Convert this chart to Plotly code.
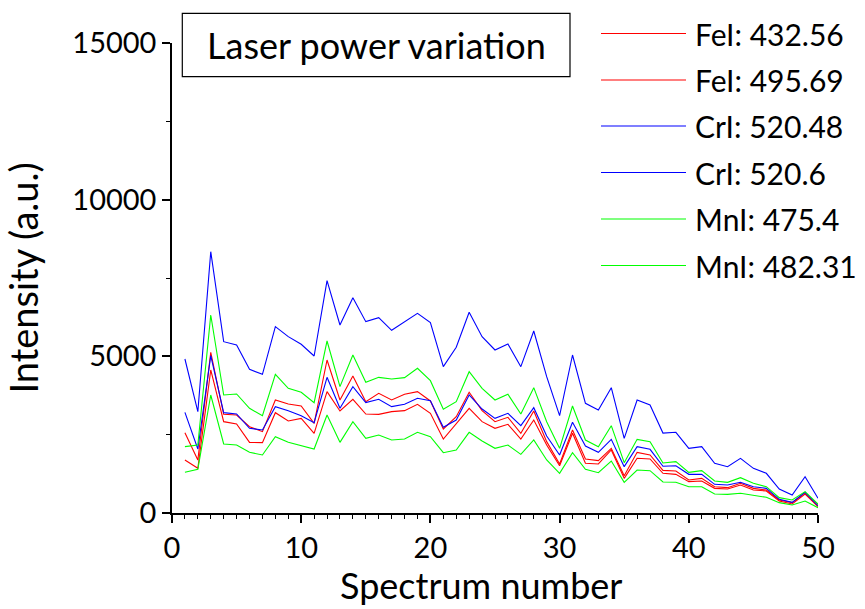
import plotly.graph_objects as go

spectrum = list(range(1, 51))

fe_432 = [2564, 1692, 5128, 3149, 3128, 2756, 2596, 3607, 3479, 3415,
          2862, 4883, 3607, 4373, 3554, 3820, 3607, 3788, 3873, 3575,
          2681, 3074, 3852, 3266, 2915, 3053, 2543, 3256, 2277, 1564,
          2649, 1724, 1670, 2064, 1192, 1936, 1851, 1360, 1340, 1053,
          1106, 840, 809, 947, 787, 734, 415, 330, 649, 234]
fe_495 = [1692, 1426, 4564, 2915, 2841, 2255, 2245, 3202, 2937, 3021,
          2543, 3873, 3256, 3628, 3160, 3149, 3234, 3266, 3469, 3181,
          2362, 2862, 3341, 2915, 2703, 2830, 2362, 2968, 2170, 1510,
          2543, 1585, 1564, 2011, 1106, 1745, 1724, 1266, 1234, 1000,
          1021, 787, 766, 894, 734, 702, 383, 287, 606, 202]
cr_520_48 = [4915, 3233, 8340, 5468, 5362, 4586, 4426, 5947, 5628, 5384,
             5011, 7415, 6000, 6873, 6107, 6235, 5830, 6107, 6373, 6075,
             4670, 5288, 6405, 5628, 5202, 5394, 4670, 5809, 4351, 3106,
             5043, 3500, 3288, 4000, 2383, 3607, 3447, 2550, 2575, 2064,
             2117, 1585, 1479, 1745, 1426, 1266, 766, 575, 1160, 468]
cr_520_6 = [3213, 2043, 5022, 3202, 3160, 2703, 2649, 3394, 3266, 3106,
            2883, 4330, 3341, 4032, 3522, 3628, 3394, 3469, 3660, 3585,
            2735, 2968, 3766, 3319, 3021, 3181, 2787, 3362, 2458, 1851,
            2894, 2138, 1936, 2351, 1479, 2117, 2032, 1490, 1510, 1234,
            1234, 915, 894, 979, 840, 787, 437, 340, 660, 234]
mn_475 = [2117, 2170, 6320, 3766, 3798, 3341, 3106, 4426, 3979, 3852,
          3522, 5490, 4032, 5043, 4170, 4330, 4277, 4320, 4617, 4223,
          3309, 3554, 4511, 3979, 3607, 3788, 3160, 4000, 2915, 2064,
          3415, 2330, 2117, 2787, 1606, 2351, 2277, 1595, 1638, 1298,
          1351, 1021, 979, 1128, 947, 840, 490, 415, 681, 287]
mn_482 = [1298, 1394, 3766, 2202, 2170, 1936, 1851, 2436, 2255, 2149,
          2043, 3128, 2255, 2915, 2383, 2490, 2330, 2362, 2575, 2436,
          1925, 2011, 2575, 2298, 2064, 2170, 1872, 2330, 1692, 1266,
          1925, 1394, 1287, 1660, 979, 1372, 1351, 990, 979, 840,
          840, 606, 596, 628, 575, 500, 330, 255, 383, 170]

series_names = ["FeI: 432.56", "FeI: 495.69", "CrI: 520.48", "CrI: 520.6",
                "MnI: 475.4", "MnI: 482.31"]
series_values = [fe_432, fe_495, cr_520_48, cr_520_6, mn_475, mn_482]
series_colors = ["#ff0000", "#ff0000", "#0000ff", "#0000ff", "#00ff00", "#00ff00"]

x_ticks = [0, 10, 20, 30, 40, 50]
y_ticks = [0, 5000, 10000, 15000]

FONT = "Lato"

fig = go.Figure()
for name, vals, col in zip(series_names, series_values, series_colors):
    fig.add_trace(go.Scatter(x=spectrum, y=vals, mode="lines", name=name,
                             line=dict(color=col, width=1.1), showlegend=False))

W, H = 865, 609
L, R, T, B = 172, 47, 43, 96
pw, ph = W - L - R, H - T - B

def px(xp):
    return (xp - L) / pw

def py(yp):
    return (H - B - yp) / ph

# manual legend (long line samples like the original)
row_y = [33.5, 80, 126, 172.5, 219, 265.5]
for name, col, yy in zip(series_names, series_colors, row_y):
    fig.add_shape(type="line", xref="paper", yref="paper",
                  x0=px(601), x1=px(686), y0=py(yy), y1=py(yy),
                  line=dict(color=col, width=1.1))
    fig.add_annotation(xref="paper", yref="paper", x=px(693), y=py(yy),
                       text=name, showarrow=False, xanchor="left", yanchor="middle",
                       font=dict(family=FONT, size=30, color="black"))

# title box
fig.add_shape(type="rect", xref="paper", yref="paper",
              x0=px(182.3), x1=px(570), y0=py(76.7), y1=py(13.3),
              line=dict(color="black", width=1.2), fillcolor="white")
fig.add_annotation(xref="paper", yref="paper", x=px(376.5), y=py(45),
                   text="Laser power variation", showarrow=False,
                   xanchor="center", yanchor="middle",
                   font=dict(family=FONT, size=36, color="black"))

# x axis title, placed like the original (slightly left of centre)
fig.add_annotation(xref="paper", yref="paper", x=px(481), y=py(585),
                   text="Spectrum number", showarrow=False,
                   xanchor="center", yanchor="middle",
                   font=dict(family=FONT, size=36, color="black"))

fig.update_layout(
    width=W, height=H,
    margin=dict(l=L, r=R, t=T, b=B, autoexpand=False),
    paper_bgcolor="white", plot_bgcolor="white",
    font=dict(family=FONT, color="black"),
    showlegend=False,
)
fig.update_xaxes(
    range=[0, 50], tickvals=x_ticks, ticktext=[str(v) for v in x_ticks],
    automargin=False,
    showgrid=False, zeroline=False, showline=True, linecolor="black", linewidth=1.5,
    ticks="outside", ticklen=8, tickwidth=1.5, tickcolor="black",
    minor=dict(dtick=1, ticks="outside", ticklen=4, tickwidth=1.2, tickcolor="black"),
    tickfont=dict(family=FONT, size=29, color="black"),
)
fig.update_yaxes(
    range=[0, 15000], tickvals=y_ticks, ticktext=[str(v) for v in y_ticks],
    automargin=False,
    showgrid=False, zeroline=False, showline=True, linecolor="black", linewidth=1.5,
    ticks="outside", ticklen=8, tickwidth=1.5, tickcolor="black",
    minor=dict(dtick=2500, ticks="outside", ticklen=4, tickwidth=1.2, tickcolor="black"),
    tickfont=dict(family=FONT, size=29, color="black"),
    title=dict(text="Intensity (a.u.)", font=dict(family=FONT, size=38, color="black"),
               standoff=22),
)

fig.write_html("out.html")
